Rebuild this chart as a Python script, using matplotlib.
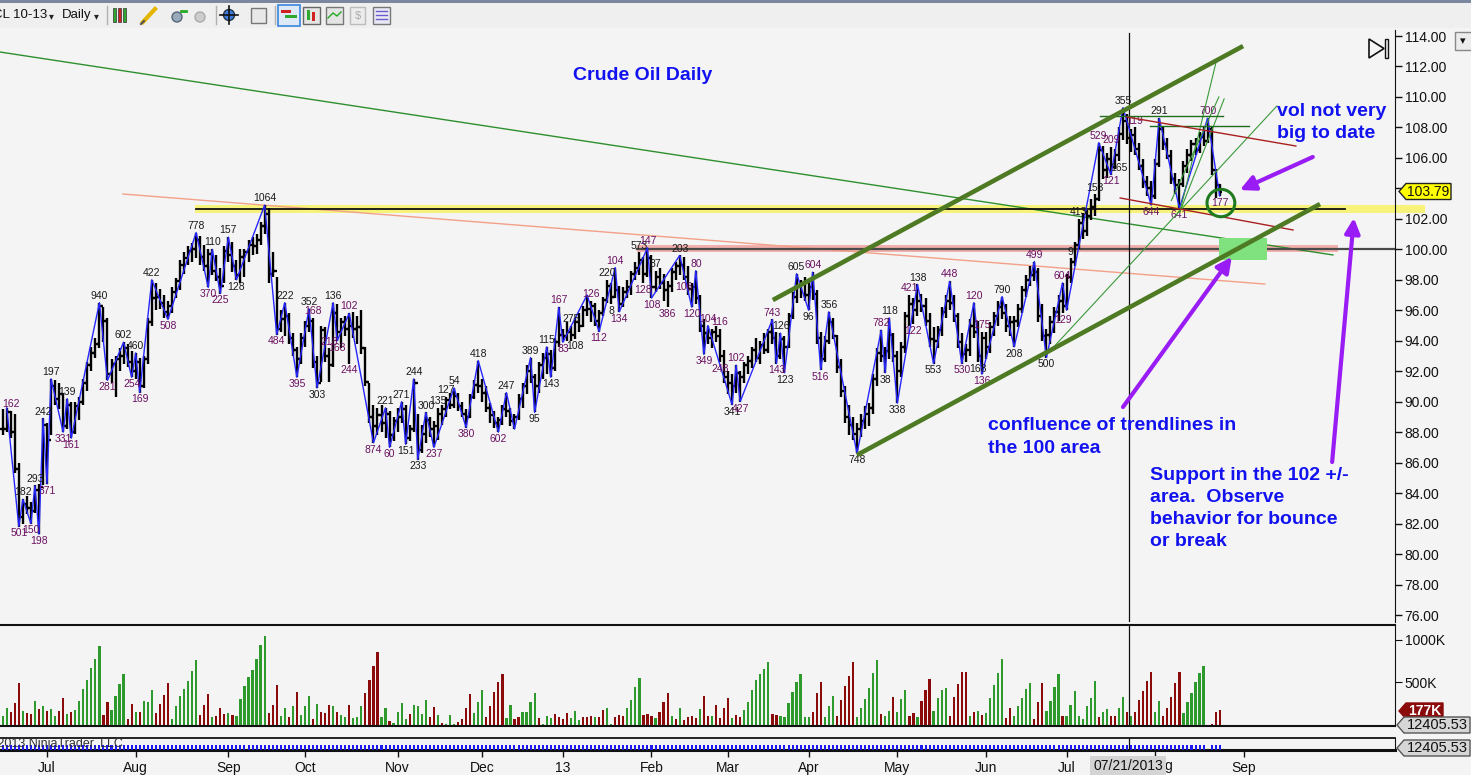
import numpy as np
import pandas as pd
import matplotlib
matplotlib.use("Agg")
import matplotlib.pyplot as plt
from matplotlib.collections import LineCollection
from matplotlib.patches import Rectangle, Polygon, Ellipse

plt.rcParams['font.family'] = ['Liberation Sans', 'DejaVu Sans']

# ---------------- DATA ----------------
start_date = '2012-06-15'
holidays = ['2012-09-03', '2012-11-22', '2012-12-25', '2013-01-01',
            '2013-02-18', '2013-03-29', '2013-05-27', '2013-07-04']

highs = [
 89.5,89.6,89.4,89.2,86.0,83.6,83.8,83.4,84.5,84.6,
 88.9,88.6,91.5,91.4,91.2,90.6,90.2,90.0,90.0,90.3,
 91.5,92.6,93.6,94.2,96.5,96.2,95.5,92.8,93.0,93.5,
 93.9,93.8,93.3,93.2,92.9,93.0,95.5,98.0,97.8,97.4,
 97.0,96.6,97.5,98.1,99.3,99.8,100.2,100.4,101.1,100.9,
 100.3,100.0,100.0,99.6,98.8,100.2,100.8,100.5,99.3,100.0,
 100.0,100.6,100.8,101.0,101.8,102.9,102.7,99.8,98.2,96.0,
 96.5,95.8,94.5,93.6,94.5,95.3,96.1,95.5,93.0,95.0,
 94.9,93.5,96.5,96.4,95.5,95.6,95.8,95.9,95.6,96.0,
 93.6,91.2,89.8,89.6,89.8,89.6,89.4,89.0,89.6,90.0,
 89.8,88.5,91.5,89.2,88.5,89.3,89.0,88.7,89.6,89.8,
 90.3,90.6,90.9,90.6,90.0,89.5,90.5,91.4,92.7,91.5,
 91.0,89.9,89.4,89.0,89.8,90.6,89.6,89.2,90.5,91.2,
 92.4,92.9,91.8,92.6,93.2,93.6,93.4,94.2,96.2,94.8,
 95.2,95.0,95.5,95.8,96.3,97.0,96.6,96.5,96.0,96.9,
 98.0,97.8,98.8,97.6,97.5,98.0,98.6,99.2,99.8,99.5,
 100.1,99.6,98.6,98.8,98.4,97.9,98.8,99.2,99.6,99.5,
 98.9,97.8,98.6,97.0,95.4,95.0,94.8,95.0,94.8,93.4,
 92.0,91.8,92.4,92.0,92.6,93.0,93.6,94.2,94.0,94.5,
 94.8,95.4,94.6,94.5,94.3,95.8,97.2,98.4,98.0,98.2,
 97.9,98.5,97.3,94.6,94.3,95.9,95.5,94.4,92.8,91.0,
 89.8,89.0,88.6,89.2,89.7,89.9,91.8,93.5,94.7,93.6,
 95.5,94.5,93.3,93.9,95.9,97.0,96.8,97.7,97.1,96.8,
 95.8,94.9,95.0,96.2,97.0,97.9,97.0,95.8,94.5,93.8,
 95.4,96.5,95.3,94.6,94.6,95.2,95.9,96.6,96.9,96.4,
 95.6,95.6,96.4,97.6,98.3,98.9,99.2,98.8,96.4,94.8,
 95.6,96.2,97.0,97.8,98.4,99.4,100.5,102.0,102.4,102.6,
 103.3,103.6,107.0,106.8,106.3,106.7,106.6,108.0,109.3,108.9,
 107.9,108.0,107.0,105.9,104.8,104.5,105.9,108.6,108.0,107.3,
 106.5,105.0,104.6,105.8,106.6,107.2,107.3,107.7,108.1,108.6,
 108.0,105.3,104.3]

lows = [
 87.8,88.0,87.6,85.3,81.8,82.0,82.6,82.0,82.7,81.3,
 84.5,84.6,87.8,89.8,89.5,88.0,88.2,87.6,87.9,88.8,
 89.8,90.7,92.0,92.9,93.5,93.9,91.4,91.2,90.3,92.0,
 92.5,92.3,91.6,91.5,90.6,90.9,92.5,95.0,96.0,96.1,
 95.5,95.4,95.8,96.8,97.3,98.4,99.0,99.2,99.4,99.0,
 98.6,97.5,98.3,97.9,97.1,97.8,99.2,98.5,98.0,97.8,
 98.2,99.2,99.6,99.7,100.3,101.0,97.8,98.2,94.4,94.6,
 94.3,93.8,93.0,91.6,92.5,93.6,94.6,92.2,90.9,91.3,
 92.6,91.3,92.3,94.0,93.5,94.3,92.5,94.2,93.8,93.1,
 91.0,88.6,87.3,87.8,88.0,87.6,87.0,87.4,88.0,88.6,
 87.2,87.4,88.0,86.2,86.6,87.3,87.7,87.0,87.5,88.5,
 89.0,89.5,89.6,89.4,89.0,88.3,88.9,90.2,90.6,90.0,
 89.3,88.6,88.3,88.0,88.5,89.0,88.4,88.2,88.8,89.6,
 90.5,91.2,89.3,90.6,91.5,91.8,91.6,92.0,93.6,93.9,
 94.0,94.0,94.1,94.6,94.9,95.6,95.2,95.0,94.6,95.6,
 96.5,96.4,96.8,95.9,96.2,96.8,97.0,98.0,98.3,97.8,
 98.2,96.8,97.2,97.4,96.6,96.2,97.2,98.0,98.3,98.0,
 97.0,96.2,96.4,94.6,93.1,93.8,93.5,93.9,92.6,91.2,
 90.5,89.8,90.6,90.0,91.2,91.8,92.2,92.6,92.5,93.1,
 93.2,93.8,92.5,92.8,91.9,93.5,95.4,96.5,96.8,96.6,
 96.0,96.7,93.8,92.1,92.6,93.8,94.1,91.9,90.3,88.6,
 87.8,87.5,86.6,87.7,88.2,88.4,89.2,91.0,92.6,91.9,
 92.8,92.6,89.9,91.6,93.2,95.0,95.1,95.6,95.9,95.0,
 93.6,92.5,93.5,94.3,95.5,96.0,95.2,93.5,92.5,92.6,
 93.0,94.2,92.6,91.8,92.8,93.2,94.3,95.0,95.4,94.6,
 94.3,93.6,94.9,95.8,96.9,97.6,97.9,95.2,94.0,92.9,
 93.8,94.5,95.3,95.8,96.0,97.8,98.9,100.0,100.7,100.9,
 101.9,102.2,103.2,104.6,104.7,104.9,105.3,105.8,107.2,106.9,
 106.4,106.2,105.2,104.0,103.5,102.9,103.3,105.4,106.5,105.9,
 104.3,103.6,102.7,104.1,105.0,105.8,106.2,106.3,106.8,107.0,
 104.9,103.4,103.5]

closes = [
 88.2,89.3,88.0,85.6,82.4,83.3,83.0,82.8,84.2,84.4,
 88.5,87.5,91.0,90.2,90.5,88.4,89.8,88.0,89.7,90.0,
 91.2,92.4,93.2,93.8,96.3,95.3,91.8,92.5,92.8,93.0,
 93.5,92.6,92.0,92.6,91.0,92.8,95.2,96.8,96.9,96.5,
 95.9,96.3,97.2,97.9,99.0,99.4,99.9,100.0,100.6,99.5,
 98.9,99.7,98.6,98.2,97.6,99.9,99.6,98.9,98.3,99.5,
 99.8,100.3,100.2,100.6,101.5,102.3,98.4,98.6,94.8,95.4,
 95.6,94.2,93.4,92.8,94.2,95.0,95.3,92.6,91.2,94.7,
 93.0,92.4,95.8,94.6,95.2,94.8,95.0,94.8,94.9,93.5,
 91.3,89.0,88.4,89.1,88.6,89.2,87.8,88.7,89.0,89.5,
 87.6,88.2,91.2,86.8,87.9,88.8,88.2,88.4,89.2,89.5,
 90.1,89.8,90.4,89.7,89.2,89.0,90.3,91.1,91.0,90.6,
 89.6,89.1,88.6,88.8,89.5,89.4,88.7,89.0,90.2,91.0,
 92.0,91.6,91.0,92.4,92.9,93.1,92.2,93.9,94.4,94.3,
 94.6,94.4,95.2,95.0,96.0,96.1,96.3,95.3,95.8,96.7,
 97.6,96.9,97.3,96.4,97.2,97.5,98.4,98.8,99.3,98.4,
 99.4,97.5,98.2,97.8,97.3,97.6,98.5,98.9,99.0,98.2,
 97.4,97.5,96.8,95.0,94.5,94.2,94.6,94.3,93.0,91.6,
 91.2,91.0,91.9,91.6,92.4,92.7,93.4,92.9,93.7,93.4,
 94.6,94.2,93.0,94.1,93.6,95.6,96.9,97.6,97.7,97.0,
 97.5,97.1,94.2,92.8,94.0,95.2,94.3,92.3,90.7,89.0,
 88.5,87.9,88.2,88.7,89.2,89.6,91.5,93.2,93.0,93.3,
 94.4,93.0,92.0,93.6,95.6,96.4,96.0,96.6,96.3,95.3,
 94.1,94.0,94.7,95.9,96.6,96.5,95.6,93.9,93.1,93.4,
 95.0,94.6,93.0,94.2,93.6,94.9,95.6,96.2,95.8,95.0,
 95.2,95.3,96.1,97.3,98.0,98.3,98.5,95.6,94.3,94.4,
 95.2,95.9,96.6,96.3,98.2,99.2,100.3,101.7,101.2,102.2,
 102.8,103.3,106.5,105.2,105.9,105.4,106.2,107.6,108.4,107.3,
 107.5,106.6,105.5,104.4,104.0,103.5,105.6,107.9,106.9,106.1,
 104.6,104.2,104.3,105.5,106.2,106.9,106.5,107.4,107.1,107.9,
 105.2,104.2,103.79]

volume_k = [
 110,205,150,255,490,165,140,128,283,186,
 225,167,186,110,163,314,128,155,178,283,
 419,523,670,775,930,116,264,178,341,477,
 593,70,244,147,155,283,275,411,140,244,
 349,488,70,225,341,419,512,632,767,116,
 236,360,89,109,205,128,140,116,109,302,
 457,562,651,775,942,1046,140,233,465,109,
 205,97,217,388,116,225,341,70,244,147,
 140,233,217,147,116,89,233,85,89,217,
 372,523,698,860,97,205,50,23,155,256,
 70,128,233,217,128,291,97,209,112,23,
 10,116,10,39,70,205,360,140,271,407,
 97,225,388,504,593,81,233,70,97,147,
 155,275,372,78,12,109,78,128,97,70,
 136,78,167,62,97,97,109,89,97,178,
 205,15,97,116,109,194,291,446,554,116,
 128,101,81,147,271,372,109,70,194,58,
 97,109,78,186,341,101,101,233,78,
 205,
 322,81,116,89,178,271,411,527,593,
 659,736,128,116,101,89,256,388,504,593,
 89,89,155,372,504,89,217,341,101,295,
 457,581,736,89,194,302,438,605,767,128,
 109,167,326,155,302,407,109,140,89,283,
 411,535,167,322,411,430,109,329,477,620,
 620,109,147,167,116,140,322,465,605,775,
 78,194,109,217,322,426,488,70,271,488,
 167,283,446,593,109,109,233,399,109,70,
 217,322,516,97,147,186,101,101,194,333,
 155,101,147,291,399,516,620,147,283,109,
 194,333,488,620,136,264,372,504,612,690,
 0,12,150,177]

volume_dir = ("ggrrrgrrgr" "grggrrgrgg" "gggggrrggg" "grrgrgggrr" "rrgggggggr"
              "rrgrrrgrgg" "ggggggrrrg" "grgrgggrgr" "rrgrggrggg" "rrrrggrggg"
              "grggggrrgr" "gggrrrrggg" "rrrrrggrrg" "gggrgggrrr" "rgggrrrgrr"
              "ggrrrggggr" "rrgrrrgrgr" "rrrgrrgrr"
              "r"
              "rgrrggggg" "ggrrgggggg" "ggrrrgggrr" "rrrggggggr" "ggrgggrrgr"
              "rrggggrrrr" "rgrgrggggg" "rrgggggrrr" "ggggrggggg" "gggrggrrgg"
              "rgrrrrrggr" "rrrrgggggg"
              "rrrr")

label_idx = [2,4,5,7,8,9,10,11,12,15,16,17,24,26,30,32,33,34,37,41,48,51,52,54,56,58,65,
             68,70,73,76,77,78,81,82,83,86,86,92,95,96,99,100,102,103,105,107,108,110,112,115,118,123,125,
             131,132,135,136,138,139,141,142,146,148,150,151,152,153,158,159,160,161,162,165,168,169,171,172,174,175,178,178,181,182,183,
             191,192,193,194,197,200,201,203,205,212,218,219,220,222,225,226,227,231,235,238,241,242,243,243,248,251,256,259,
             263,263,265,267,271,272,275,275,277,278,281,285,287,292,299,302]
label_txt = ["162","501","182","150","293","198","242","371","197","331","139","161","940","281","602","254","460","169","422","508","778","370","110","225","157","128","1064",
             "484","222","395","352","168","303","218","136","168","102","244","874","221","60","271","151","244","233","300","237","135","127","54","380","418","602","247",
             "389","95","115","143","167","83","275","108","126","112","220","8","104","134","573","128","147","108","87","386","203","106","120","80","349","104","116","248","341","102","427",
             "743","143","126","123","605","96","604","516","356","748","782","38","118","338","421","122","138","553","448","530","120","168","175","136","790","208","499","500",
             "604","129","9","413","153","529","121","209","165","355","119","644","291","641","700","177"]
label_pos = ["h","l","h","l","h","l","h","l","h","l","h","l","h","l","h","l","h","l","h","l","h","l","h","l","h","l","h",
             "l","h","l","h","h","l","h","h","l","h","l","l","h","l","h","l","h","l","h","l","h","h","h","l","h","l","h",
             "h","l","h","l","h","l","h","l","h","l","h","l","h","l","h","l","h","l","h","l","h","l","l","h","l","h","h","l","l","h","l",
             "h","l","h","l","h","l","h","l","h","l","h","l","h","l","h","l","h","l","h","l","h","l","h","l","h","l","h","l",
             "h","l","h","h","h","h","l","h","l","h","h","l","h","l","h","l"]

zigzag_idx = [1,4,5,7,8,9,10,11,12,15,16,17,24,26,30,32,33,34,37,41,48,51,52,54,56,58,65,68,70,73,
              76,78,82,83,86,92,95,96,99,100,102,103,105,107,112,115,118,123,125,127,131,132,135,136,
              138,139,145,148,152,153,160,161,168,171,172,174,175,181,182,183,191,192,193,194,197,200,
              201,203,205,212,218,219,220,222,227,231,235,238,241,243,248,251,256,259,263,264,272,275,
              278,285,287,292,299,302]

price_ticks = list(range(76, 115, 2))
hidden_tick = 104            # covered by the last-price tag in the reference
last_price = 103.79
cross_idx = 279.5            # crosshair (07/21/2013)

# analyst drawings in (bar index, price)
long_green = [(-0.7, 112.95), (330.1, 99.63)]
salmon_line = [(29.85, 103.63), (313.2, 97.72)]
yellow_band = (47.8, 352.9, 102.38, 102.91)
support_line = [(48.0, 102.65), (333.1, 102.65)]
pink_band = (157.4, 331.3, 99.82, 100.28)
level_100 = [(157.4, 100.0), (345.5, 100.0)]
green_box = (301.8, 313.7, 99.30, 100.74)
channel_top = [(191.1, 96.67), (307.8, 113.34)]
channel_bot = [(212.0, 86.50), (326.9, 102.97)]
fan_lines = [[(259.4, 93.19), (316.2, 109.41)],
             [(292.1, 102.45), (301.1, 112.29)],
             [(292.1, 102.45), (303.1, 109.87)],
             [(290.0, 103.2), (301.8, 110.0)]]
hlines_green = [[(272.3, 108.75), (302.8, 108.75)], [(284.7, 108.09), (309.3, 108.09)]]
red_lines = [[(279.0, 108.68), (320.9, 106.78)], [(277.3, 103.37), (320.2, 101.27)]]
circle = (302.3, 103.04, 6.9, 1.8)
arrows = [[(325.1, 106.06), (307.0, 103.89)],
          [(278.0, 89.65), (305.0, 99.50)],
          [(329.9, 86.04), (335.3, 102.06)]]

assert len(highs) == len(lows) == len(closes) == len(volume_k) == len(volume_dir), \
    (len(highs), len(lows), len(closes), len(volume_k), len(volume_dir))

# ---------------- FIGURE ----------------
W, H = 1471, 775
BG = '#f4f4f4'
BLUE_TXT = '#1212f0'
fig = plt.figure(figsize=(W / 100, H / 100), dpi=100, facecolor=BG)

def fx(px): return px / W
def fy(py): return 1 - py / H

n = len(closes)
idx = np.arange(n)
opens = [closes[0]] + closes[:-1]
dates = pd.bdate_range(start_date, periods=n + 20, freq='C', holidays=holidays)

XL = (-0.67, 345.5)

def frect(x0, y0, w, h, **kw):
    fig.patches.append(Rectangle((fx(x0), fy(y0 + h)), w / W, h / H, transform=fig.transFigure, **kw))

def fline(xs, ys, **kw):
    fig.lines.append(plt.Line2D([fx(v) for v in xs], [fy(v) for v in ys], transform=fig.transFigure, **kw))

# toolbar
frect(0, 0, W, 28, facecolor='#efefef', edgecolor='none', zorder=0)
frect(0, 0, W, 3, facecolor='#7a879e', edgecolor='none', zorder=1)
fig.text(fx(-7), fy(15), "CL 10-13", fontsize=9.5, va='center', ha='left', color='#111')
fig.text(fx(49), fy(16), "▾", fontsize=7, va='center', ha='left', color='#222')
fig.text(fx(62), fy(15), "Daily", fontsize=9.5, va='center', ha='left', color='#111')
fig.text(fx(94), fy(16), "▾", fontsize=7, va='center', ha='left', color='#222')
for sx in (107, 216, 275):
    fline([sx, sx], [6, 24], color='#b0b0b0', lw=1)

# toolbar icons (simple approximations)
for k, c in enumerate(['#2fa82f', '#d02020', '#2fa82f']):
    frect(113 + k * 5, 8, 3, 14, facecolor=c, edgecolor='#333', lw=0.5)
fline([143, 155], [22, 9], color='#e3b400', lw=3)
fline([141, 144], [24, 21], color='#555', lw=1.5)
fig.patches.append(Ellipse((fx(177), fy(17)), 10 / W, 10 / H, transform=fig.transFigure,
                           facecolor='#9ab', edgecolor='#567', lw=1))
fline([181, 186], [11, 11], color='#2a2', lw=2)
fig.patches.append(Ellipse((fx(200), fy(17)), 10 / W, 10 / H, transform=fig.transFigure,
                           facecolor='#ccc', edgecolor='#aaa', lw=1))
fig.patches.append(Ellipse((fx(229), fy(15)), 11 / W, 11 / H, transform=fig.transFigure,
                           facecolor='#3b7de0', edgecolor='#234', lw=1))
fline([220, 238], [15, 15], color='#111', lw=1.2)
fline([229, 229], [6, 24], color='#111', lw=1.2)
frect(251, 8, 15, 15, facecolor='#e8e8e8', edgecolor='#777', lw=1)
frect(278, 5, 22, 21, facecolor='#dde9f7', edgecolor='#3a86e0', lw=1.2)
frect(281, 10, 10, 3, facecolor='#d02020', edgecolor='none')
frect(285, 15, 12, 3, facecolor='#2fa82f', edgecolor='none')
frect(303, 7, 17, 17, facecolor='#e4e4e4', edgecolor='#666', lw=1)
frect(307, 10, 3, 10, facecolor='#2fa82f', edgecolor='none')
frect(312, 12, 3, 9, facecolor='#d02020', edgecolor='none')
frect(326, 7, 17, 17, facecolor='#e4e4e4', edgecolor='#777', lw=1)
fline([328, 333, 337, 341], [18, 13, 16, 12], color='#2a2', lw=1)
frect(350, 7, 15, 17, facecolor='#ececec', edgecolor='#bbb', lw=1)
fig.text(fx(357.5), fy(15.5), "$", fontsize=8, ha='center', va='center', color='#aaa')
frect(373, 7, 17, 17, facecolor='#e8e8f4', edgecolor='#777', lw=1)
for yy in (11, 15, 19):
    fline([376, 387], [yy, yy], color='#6a5acd', lw=1)

# ---------------- PRICE PANEL ----------------
ax = fig.add_axes([0, fy(622), 1395 / W, (622 - 30) / H])
ax.set_facecolor(BG)
ax.set_xlim(*XL)
ax.set_ylim(75.541, 114.394)
for s in ('left', 'top', 'bottom'):
    ax.spines[s].set_visible(False)
ax.spines['right'].set_color('#111')
ax.set_xticks([])
ax.yaxis.tick_right()
ax.set_yticks(price_ticks)
ax.set_yticklabels(["" if v == hidden_tick else f"{v:.2f}" for v in price_ticks])
ax.tick_params(axis='y', direction='out', length=5, width=1, labelsize=10, pad=2, colors='#111')

# long guide lines
ax.plot(*zip(*long_green), color='#2f8f2f', lw=1, zorder=2)
ax.plot(*zip(*salmon_line), color='#f3a088', lw=1, zorder=2)

# yellow support band + pink band
yb = yellow_band
ax.add_patch(Rectangle((yb[0], yb[2]), yb[1] - yb[0], yb[3] - yb[2], facecolor='#f6f27a',
                       edgecolor='none', zorder=1, clip_on=False))
ax.plot(*zip(*support_line), color='#111', lw=1.3, zorder=2)
pb = pink_band
ax.add_patch(Rectangle((pb[0], pb[2]), pb[1] - pb[0], pb[3] - pb[2], facecolor='#f2b0ad',
                       edgecolor='none', zorder=1))
ax.plot(*zip(*level_100), color='#4a4a4a', lw=1.6, zorder=2)
gb = green_box
ax.add_patch(Rectangle((gb[0], gb[2]), gb[1] - gb[0], gb[3] - gb[2], facecolor='#7fe27f',
                       edgecolor='none', zorder=2))

# OHLC bars
segs = []
for i in range(n):
    segs.append([(i, lows[i]), (i, highs[i])])
    segs.append([(i - 0.6, opens[i]), (i, opens[i])])
    segs.append([(i, closes[i]), (i + 0.6, closes[i])])
ax.add_collection(LineCollection(segs, colors='#000000', linewidths=1.7, zorder=4,
                                 capstyle='butt'))

# zigzag
zz_y = [highs[i] if k % 2 == 0 else lows[i] for k, i in enumerate(zigzag_idx)]
ax.plot(zigzag_idx, zz_y, color='#2626ff', lw=1.0, zorder=5)

# pivot labels
for i, t, p in zip(label_idx, label_txt, label_pos):
    col = '#1a1a1a' if volume_dir[i] == 'g' else '#6a1060'
    if p == 'h':
        ax.text(i, highs[i] + 0.12, t, ha='center', va='bottom', fontsize=7.5, color=col, zorder=6)
    else:
        ax.text(i, lows[i] - 0.12, t, ha='center', va='top', fontsize=7.5, color=col, zorder=6)

# channel + other drawings
for line in (channel_top, channel_bot):
    ax.plot(*zip(*line), color='#4d7a22', lw=3.3, zorder=7, solid_capstyle='butt')
for line in fan_lines:
    ax.plot(*zip(*line), color='#3a9a3a', lw=0.8, zorder=6)
for line in hlines_green:
    ax.plot(*zip(*line), color='#1f6f1f', lw=1.0, zorder=6)
for line in red_lines:
    ax.plot(*zip(*line), color='#a82020', lw=1.0, zorder=6)
cx, cy, cw, ch = circle
ax.add_patch(Ellipse((cx, cy), cw, ch, fill=False, edgecolor='#1f7a1f', lw=2.2, zorder=8))
for tail, head in arrows:
    ax.annotate('', xy=head, xytext=tail,
                arrowprops=dict(arrowstyle='-|>,head_length=0.9,head_width=0.45',
                                color='#9a1cf5', lw=3, shrinkA=0, shrinkB=0),
                zorder=9, annotation_clip=False)
ax.axvline(cross_idx, ymin=0, ymax=0.995, color='#111', lw=0.9, zorder=3)

# annotations
fig.text(fx(643), fy(75), "Crude Oil Daily", ha='center', va='center', fontsize=14,
         fontweight='bold', color=BLUE_TXT)
for k, s in enumerate(["vol not very", "big to date"]):
    fig.text(fx(1277), fy(111 + 22 * k), s, ha='left', va='center', fontsize=14,
             fontweight='bold', color=BLUE_TXT)
for k, s in enumerate(["confluence of trendlines in", "the 100 area"]):
    fig.text(fx(988), fy(426 + 22 * k), s, ha='left', va='center', fontsize=14,
             fontweight='bold', color=BLUE_TXT)
for k, s in enumerate(["Support in the 102 +/-", "area.  Observe", "behavior for bounce", "or break"]):
    fig.text(fx(1150), fy(476 + 21.7 * k), s, ha='left', va='center', fontsize=14,
             fontweight='bold', color=BLUE_TXT)

# play-to-end icon
fig.patches.append(Polygon([(fx(1369), fy(39)), (fx(1369), fy(58)), (fx(1384), fy(48.5))],
                           closed=True, transform=fig.transFigure, facecolor='none',
                           edgecolor='#111', lw=1.2))
frect(1385, 39, 3, 19, facecolor='none', edgecolor='#111', lw=1.0)
# top-right small button
frect(1455, 32, 17, 18, facecolor='#ececec', edgecolor='#888', lw=1)
fig.text(fx(1463), fy(41), "▾", fontsize=8, ha='center', va='center', color='#111')

# price tags on the right
def tag(y, x0, x1, fc, ec, text, tc, bold=False, fs=10):
    h2 = 8
    pts = [(fx(x0), fy(y)), (fx(x0 + 7), fy(y - h2)), (fx(x1), fy(y - h2)),
           (fx(x1), fy(y + h2)), (fx(x0 + 7), fy(y + h2))]
    fig.patches.append(Polygon(pts, closed=True, transform=fig.transFigure,
                               facecolor=fc, edgecolor=ec, lw=1, zorder=10))
    fig.text(fx((x0 + 7 + x1) / 2), fy(y), text, ha='center', va='center', fontsize=fs,
             color=tc, fontweight='bold' if bold else 'normal', zorder=11)

tag(191.5, 1399, 1451, '#ffff00', '#222', f"{last_price:.2f}", '#111', fs=10)

# ---------------- VOLUME PANEL ----------------
axv = fig.add_axes([0, fy(726), 1395 / W, (726 - 625) / H])
axv.set_facecolor(BG)
axv.set_xlim(*XL)
axv.set_ylim(-12, 1174)
axv.spines['left'].set_visible(False)
for s in ('top', 'bottom'):
    axv.spines[s].set_color('#111')
    axv.spines[s].set_linewidth(1.5)
axv.spines['right'].set_color('#111')
axv.set_xticks([])
axv.yaxis.tick_right()
axv.set_yticks([500, 1000])
axv.set_yticklabels(['500K', '1000K'])
axv.tick_params(axis='y', direction='out', length=5, labelsize=10, pad=2, colors='#111')
vcol = ['#2e9a2e' if d == 'g' else '#8b0a0a' for d in volume_dir]
axv.bar(idx, volume_k, width=0.55, color=vcol, bottom=0, zorder=3)
axv.axvline(cross_idx, color='#111', lw=0.9, zorder=4)
tag(711, 1399, 1443, '#8b0a0a', '#8b0a0a', f"{volume_k[-1]}K", 'white', bold=True, fs=10)
tag(725, 1397, 1470, '#d6d6d6', '#555', "12405.53", '#111', fs=10.5)

# ---------------- INDICATOR STRIP ----------------
axi = fig.add_axes([0, fy(750), 1395 / W, 12 / H])
axi.set_facecolor(BG)
axi.set_xlim(*XL)
axi.set_ylim(0, 1)
axi.spines['left'].set_visible(False)
axi.spines['top'].set_color('#111')
axi.spines['top'].set_linewidth(1.3)
axi.spines['bottom'].set_color('#111')
axi.spines['bottom'].set_linewidth(2.2)
axi.spines['right'].set_color('#111')
axi.set_yticks([])
present = [i for i in idx if volume_k[i] > 0]
axi.bar(present, [0.4] * len(present), width=0.5, color='#1c1cf0', zorder=3)
axi.axvline(cross_idx, color='#111', lw=0.9, zorder=4)
fig.text(fx(-12), fy(744), "©2013 NinjaTrader, LLC", fontsize=9, ha='left', va='center',
         color='#333', zorder=12)
tag(748, 1397, 1470, '#d6d6d6', '#555', "12405.53", '#111', fs=10.5)

# month ticks
cross_month = dates[int(round(cross_idx))].strftime('%b')
tick_pos, tick_lab = [], []
for k in range(1, len(dates)):
    if dates[k].month != dates[k - 1].month and XL[0] < k < XL[1]:
        tick_pos.append(k)
        lab = dates[k].strftime('%y') if dates[k].month == 1 else dates[k].strftime('%b')
        # label hidden under the crosshair date box, only its last letter shows
        if k > cross_idx and k - cross_idx < 10:
            lab = ""
        tick_lab.append(lab)
axi.set_xticks(tick_pos)
axi.set_xticklabels(tick_lab)
axi.tick_params(axis='x', direction='out', length=5, width=1, labelsize=10, pad=3, colors='#111')

fig.text(fx(1128), fy(766), "07/21/2013", ha='center', va='center', fontsize=10, color='#111',
         zorder=20, bbox=dict(boxstyle='square,pad=0.25', facecolor='#d4d4d4', edgecolor='none'))
fig.text(fx(1164), fy(766), "g", ha='left', va='center', fontsize=10, color='#111')

fig.savefig('out.png', dpi=100, facecolor=BG)
